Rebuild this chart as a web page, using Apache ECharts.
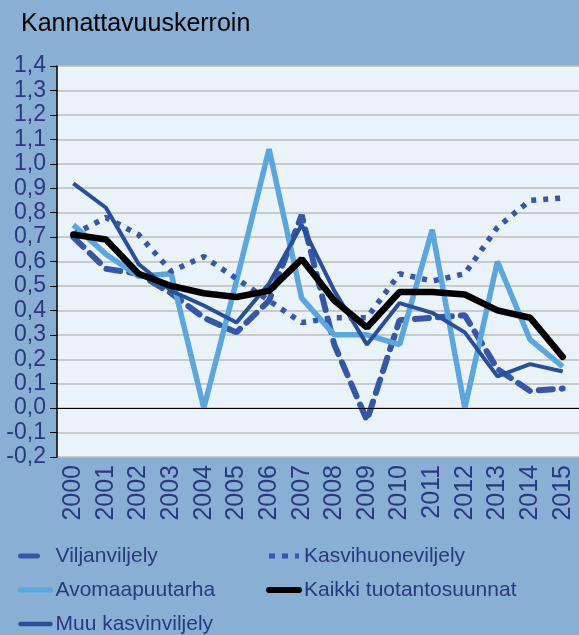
<!DOCTYPE html>
<html>
<head>
<meta charset="utf-8">
<script src="https://cdn.jsdelivr.net/npm/echarts@6/dist/echarts.min.js"></script>
<style>
  html, body { margin: 0; padding: 0; background: #8aafd4; }
  #chart { width: 579px; height: 635px; }
</style>
</head>
<body>
<div id="chart"></div>
<script>
const years = ['2000','2001','2002','2003','2004','2005','2006','2007','2008','2009','2010','2011','2012','2013','2014','2015'];
const viljanviljely = [0.70, 0.57, 0.55, 0.47, 0.37, 0.31, 0.44, 0.79, 0.26, -0.05, 0.36, 0.37, 0.38, 0.16, 0.07, 0.08];
const avomaapuutarha = [0.75, 0.63, 0.54, 0.55, 0.00, 0.52, 1.06, 0.45, 0.30, 0.30, 0.26, 0.73, 0.00, 0.60, 0.28, 0.17];
const muuKasvinviljely = [0.92, 0.82, 0.59, 0.48, 0.42, 0.35, 0.51, 0.75, 0.48, 0.26, 0.43, 0.39, 0.31, 0.13, 0.18, 0.15];
const kasvihuoneviljely = [0.71, 0.78, 0.71, 0.56, 0.62, 0.53, 0.44, 0.35, 0.37, 0.37, 0.55, 0.52, 0.55, 0.74, 0.85, 0.86];
const kaikki = [0.71, 0.69, 0.55, 0.50, 0.47, 0.455, 0.48, 0.61, 0.44, 0.33, 0.475, 0.475, 0.465, 0.40, 0.37, 0.21];

const FONT = "'Liberation Sans', Arial, sans-serif";
const NAVY = '#283a7e';

const chart = echarts.init(document.getElementById('chart'));

// legend text style shared by both columns
const legendText = { fontFamily: FONT, fontSize: 21, lineHeight: 22, color: NAVY };

const option = {
  backgroundColor: '#8aafd4',
  animation: false,
  title: {
    text: 'Kannattavuuskerroin',
    left: 16,
    top: 7,
    textStyle: { fontFamily: FONT, fontSize: 25, fontWeight: 'normal', color: '#000' }
  },
  legend: [
    {
      orient: 'vertical',
      left: 18,
      top: 545,
      padding: 0,
      itemWidth: 30,
      itemHeight: 10,
      itemGap: 12,
      itemStyle: { opacity: 0 },
      textStyle: legendText,
      data: [
        { name: 'Viljanviljely', lineStyle: { width: 5, type: [17, 20], cap: 'round' } },
        { name: 'Avomaapuutarha', lineStyle: { width: 5, cap: 'round' } },
        { name: 'Muu kasvinviljely', lineStyle: { width: 4.5, cap: 'round' } }
      ]
    },
    {
      orient: 'vertical',
      left: 266,
      top: 545,
      padding: 0,
      itemWidth: 30,
      itemHeight: 10,
      itemGap: 12,
      itemStyle: { opacity: 0 },
      textStyle: legendText,
      data: [
        { name: 'Kasvihuoneviljely', lineStyle: { width: 5, type: [6, 7] } },
        { name: 'Kaikki tuotantosuunnat', lineStyle: { width: 6, cap: 'round' } }
      ]
    }
  ],
  grid: {
    left: 57,
    top: 66,
    width: 528,
    height: 391,
    show: true,
    backgroundColor: '#ebf3fa',
    borderWidth: 0
  },
  xAxis: {
    type: 'category',
    data: years,
    boundaryGap: true,
    axisLine: { show: false },
    axisTick: { show: false },
    axisLabel: {
      rotate: 90,
      margin: 8,
      interval: 0,
      fontFamily: FONT,
      fontSize: 25,
      color: NAVY
    }
  },
  yAxis: {
    type: 'value',
    min: -0.2,
    max: 1.4,
    interval: 0.1,
    axisLine: { show: true, lineStyle: { color: '#000', width: 1.5 } },
    axisTick: { show: true, length: 7, lineStyle: { color: '#000' } },
    axisLabel: {
      margin: 11,
      showMinLabel: true,
      showMaxLabel: true,
      fontFamily: FONT,
      fontSize: 23,
      color: NAVY,
      formatter: v => v.toFixed(1).replace('.', ',')
    },
    splitLine: { lineStyle: { color: '#bcbcbc', width: 1.5 } }
  },
  series: [
    {
      name: 'Viljanviljely',
      type: 'line',
      data: viljanviljely,
      symbol: 'none',
      itemStyle: { color: '#3557a5' },
      lineStyle: { color: '#3557a5', width: 6, type: [14, 9], cap: 'round' },
      markLine: {
        silent: true,
        symbol: 'none',
        label: { show: false },
        lineStyle: { color: '#000', width: 1, type: 'solid' },
        data: [{ yAxis: 0 }]
      }
    },
    {
      name: 'Avomaapuutarha',
      type: 'line',
      data: avomaapuutarha,
      symbol: 'none',
      itemStyle: { color: '#5ba6dc' },
      lineStyle: { color: '#5ba6dc', width: 5.5 }
    },
    {
      name: 'Muu kasvinviljely',
      type: 'line',
      data: muuKasvinviljely,
      symbol: 'none',
      itemStyle: { color: '#2a4f99' },
      lineStyle: { color: '#2a4f99', width: 4 }
    },
    {
      name: 'Kasvihuoneviljely',
      type: 'line',
      data: kasvihuoneviljely,
      symbol: 'none',
      itemStyle: { color: '#3557a5' },
      lineStyle: { color: '#3557a5', width: 5.5, type: [5, 7] }
    },
    {
      name: 'Kaikki tuotantosuunnat',
      type: 'line',
      data: kaikki,
      symbol: 'none',
      itemStyle: { color: '#000' },
      lineStyle: { color: '#000', width: 6.5, cap: 'round' }
    }
  ]
};

chart.setOption(option);
</script>
</body>
</html>
